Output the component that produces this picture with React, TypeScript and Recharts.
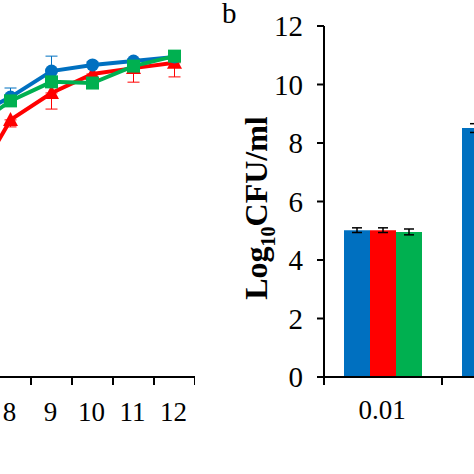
import React from 'react';
import { LineChart, Line, XAxis, YAxis, ErrorBar, BarChart, Bar } from 'recharts';

// ---- Panel a (partially visible): growth curves ----
const hours = [7, 8, 9, 10, 11, 12];
const blueMeans = [8.85, 9.57, 10.46, 10.67, 10.8, 10.94];
const blueErrUp = [0.1, 0.31, 0.51, 0.1, 0.08, 0.06];
const redMeans = [6.36, 8.79, 9.71, 10.36, 10.56, 10.74];
const redErrDown = [0.2, 0.24, 0.55, 0.12, 0.48, 0.48];
const greenMeans = [8.44, 9.44, 10.09, 10.05, 10.63, 10.97];
const greenErr = [0.05, 0.05, 0.05, 0.05, 0.05, 0.05];

// ---- Panel b: bar chart ----
const doses = ['0.01', '0.1'];
const blueBars = [5.02, 8.51];
const blueBarErr = [0.08, 0.15];
const redBars = [5.02, 8.45];
const redBarErr = [0.08, 0.1];
const greenBars = [4.96, 8.4];
const greenBarErr = [0.1, 0.1];
const yTicks = [0, 2, 4, 6, 8, 10, 12];

const BLUE = '#0070C0';
const RED = '#FF0000';
const GREEN = '#00B050';
const FONT = '"Liberation Serif", "Times New Roman", serif';

const lineData = hours.map((h, i) => ({
  h,
  blue: blueMeans[i],
  blueE: [0, blueErrUp[i]],
  red: redMeans[i],
  redE: [redErrDown[i], 0],
  green: greenMeans[i],
  greenE: greenErr[i],
}));

const barData = doses.map((d, i) => ({
  dose: d,
  blue: blueBars[i],
  blueE: blueBarErr[i],
  red: redBars[i],
  redE: redBarErr[i],
  green: greenBars[i],
  greenE: greenBarErr[i],
}));

const STEP = 41;
const BAND = 118;

const LeftTick = (props: any) => {
  const { x, y, payload } = props;
  return (
    <g>
      <line x1={x + STEP / 2} y1={y} x2={x + STEP / 2} y2={y + 8} stroke="#000" strokeWidth={2} />
      <text x={x - 1} y={y + 44} textAnchor="middle" fontSize={27} fontFamily={FONT} fill="#000">
        {payload.value}
      </text>
    </g>
  );
};

const RightTick = (props: any) => {
  const { x, y, payload } = props;
  return (
    <g>
      <line x1={x - BAND / 2} y1={y} x2={x - BAND / 2} y2={y + 8} stroke="#000" strokeWidth={2} />
      <text x={x - 1} y={y + 42} textAnchor="middle" fontSize={27} fontFamily={FONT} fill="#000">
        {payload.value}
      </text>
    </g>
  );
};

const Circle = (p: any) => (
  <circle key={`c${p.index}`} cx={p.cx} cy={p.cy} r={6.5} fill={BLUE} />
);
const Tri = (p: any) => (
  <path
    key={`t${p.index}`}
    d={`M${p.cx},${p.cy - 8}L${p.cx + 7.5},${p.cy + 6}L${p.cx - 7.5},${p.cy + 6}Z`}
    fill={RED}
  />
);
const Square = (p: any) => (
  <rect key={`s${p.index}`} x={p.cx - 6.5} y={p.cy - 6.5} width={13} height={13} fill={GREEN} />
);

const YLabel = () => (
  <text
    x={47}
    y={208}
    transform="rotate(-90, 47, 208)"
    textAnchor="middle"
    fontFamily={FONT}
    fontWeight="bold"
    fontSize={32}
    fill="#000"
  >
    <tspan>Log</tspan>
    <tspan fontSize={20} dy={8}>10</tspan>
    <tspan dy={-8}>CFU/ml</tspan>
  </text>
);

export default function App() {
  return (
    <div
      style={{
        position: 'fixed',
        left: 0,
        top: 0,
        width: 474,
        height: 474,
        overflow: 'hidden',
        background: '#fff',
      }}
    >
      <div style={{ position: 'absolute', left: -51.5, top: 0 }}>
        <LineChart
          width={246}
          height={474}
          data={lineData}
          margin={{ top: 26, right: 0, left: 0, bottom: 37 }}
        >
          <XAxis
            dataKey="h"
            type="number"
            domain={[6.5, 12.5]}
            ticks={hours}
            height={60}
            tickSize={0}
            tickMargin={0}
            tickLine={false}
            axisLine={{ stroke: '#000', strokeWidth: 2 }}
            tick={<LeftTick />}
            interval={0}
          />
          <YAxis hide domain={[0, 12]} />
          <Line
            dataKey="red"
            stroke={RED}
            strokeWidth={4}
            dot={Tri}
            activeDot={false}
            isAnimationActive={false}
          >
            <ErrorBar dataKey="redE" width={6} stroke={RED} strokeWidth={1} direction="y" />
          </Line>
          <Line
            dataKey="blue"
            stroke={BLUE}
            strokeWidth={4}
            dot={Circle}
            activeDot={false}
            isAnimationActive={false}
          >
            <ErrorBar dataKey="blueE" width={6} stroke={BLUE} strokeWidth={1} direction="y" />
          </Line>
          <Line
            dataKey="green"
            stroke={GREEN}
            strokeWidth={4}
            dot={Square}
            activeDot={false}
            isAnimationActive={false}
          >
            <ErrorBar dataKey="greenE" width={6} stroke={GREEN} strokeWidth={1} direction="y" />
          </Line>
        </LineChart>
      </div>

      <div style={{ position: 'absolute', left: 220, top: 0 }}>
        <BarChart
          width={340}
          height={474}
          data={barData}
          margin={{ top: 26, right: 0, left: 0, bottom: 37 }}
          barCategoryGap={20}
          barGap={0}
        >
          <XAxis
            dataKey="dose"
            height={60}
            tickSize={0}
            tickMargin={0}
            tickLine={false}
            axisLine={{ stroke: '#000', strokeWidth: 2 }}
            tick={<RightTick />}
            interval={0}
          />
          <YAxis
            domain={[0, 12]}
            ticks={yTicks}
            width={104}
            tickSize={7}
            tickMargin={14}
            axisLine={{ stroke: '#000', strokeWidth: 2 }}
            tickLine={{ stroke: '#000', strokeWidth: 2 }}
            tick={{ fontSize: 29, fill: '#000', fontFamily: FONT }}
            label={{ content: () => <YLabel /> }}
          />
          <Bar dataKey="blue" fill={BLUE} isAnimationActive={false}>
            <ErrorBar dataKey="blueE" width={5} stroke="#000" strokeWidth={1.5} direction="y" />
          </Bar>
          <Bar dataKey="red" fill={RED} isAnimationActive={false}>
            <ErrorBar dataKey="redE" width={5} stroke="#000" strokeWidth={1.5} direction="y" />
          </Bar>
          <Bar dataKey="green" fill={GREEN} isAnimationActive={false}>
            <ErrorBar dataKey="greenE" width={5} stroke="#000" strokeWidth={1.5} direction="y" />
          </Bar>
        </BarChart>
      </div>

      <div
        style={{
          position: 'absolute',
          left: 222,
          top: 2.6,
          fontFamily: FONT,
          fontSize: 29,
          lineHeight: '20px',
          color: '#000',
        }}
      >
        b
      </div>
    </div>
  );
}
